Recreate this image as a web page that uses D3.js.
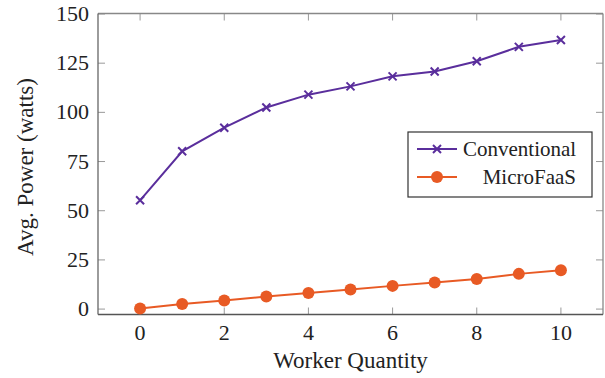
<!DOCTYPE html>
<html>
<head>
<meta charset="utf-8">
<script src="https://cdn.jsdelivr.net/npm/d3@7"></script>
<style>
  body { margin: 0; background: #fff; }
</style>
</head>
<body>
<svg width="605" height="378" font-family="Liberation Serif"></svg>
<script>
const workers = [0, 1, 2, 3, 4, 5, 6, 7, 8, 9, 10];
const conventional = [55.3, 80.2, 92.2, 102.5, 109, 113.2, 118.3, 120.8, 126, 133.3, 136.8];
const microfaas = [0.3, 2.6, 4.4, 6.4, 8.2, 10, 11.8, 13.5, 15.3, 17.9, 19.8];
const xTicks = [0, 2, 4, 6, 8, 10];
const yTicks = [0, 25, 50, 75, 100, 125, 150];

const svg = d3.select("svg");
const pLeft = 98, pRight = 603, pTop = 13.5, pBottom = 314.5;

const x = d3.scaleLinear().domain([-1, 11]).range([pLeft, pRight]);
const y = d3.scaleLinear().domain([-2.75, 150.25]).range([pBottom, pTop]);

const purple = "#5a2e9c";
const orange = "#e85a24";
const ink = "#222";

// ticks (inside, both sides)
const tickLen = 7;
const g = svg.append("g");
xTicks.forEach(t => {
    g.append("line").attr("x1", x(t)).attr("x2", x(t)).attr("y1", pBottom).attr("y2", pBottom - tickLen)
        .attr("stroke", "#999").attr("stroke-width", 1);
    g.append("line").attr("x1", x(t)).attr("x2", x(t)).attr("y1", pTop).attr("y2", pTop + tickLen)
        .attr("stroke", "#999").attr("stroke-width", 1);
});
yTicks.forEach(t => {
    g.append("line").attr("x1", pLeft).attr("x2", pLeft + tickLen).attr("y1", y(t)).attr("y2", y(t))
        .attr("stroke", "#999").attr("stroke-width", 1);
    g.append("line").attr("x1", pRight).attr("x2", pRight - tickLen).attr("y1", y(t)).attr("y2", y(t))
        .attr("stroke", "#999").attr("stroke-width", 1);
});

// box
svg.append("line").attr("x1", pLeft).attr("x2", pRight).attr("y1", pTop).attr("y2", pTop)
    .attr("stroke", "#888").attr("stroke-width", 1.3);
svg.append("line").attr("x1", pRight).attr("x2", pRight).attr("y1", pTop).attr("y2", pBottom)
    .attr("stroke", "#888").attr("stroke-width", 1.3);
svg.append("line").attr("x1", pLeft).attr("x2", pRight).attr("y1", pBottom).attr("y2", pBottom)
    .attr("stroke", "#555").attr("stroke-width", 1.3);
svg.append("line").attr("x1", pLeft).attr("x2", pLeft).attr("y1", pTop).attr("y2", pBottom)
    .attr("stroke", "#666").attr("stroke-width", 1.3);

// tick labels
svg.selectAll(".xl").data(xTicks).enter().append("text")
    .attr("x", d => x(d)).attr("y", 340)
    .attr("text-anchor", "middle").attr("font-size", 22).attr("fill", ink)
    .text(d => d);
svg.selectAll(".yl").data(yTicks).enter().append("text")
    .attr("x", 89).attr("y", d => y(d) + 7)
    .attr("text-anchor", "end").attr("font-size", 22).attr("fill", ink)
    .text(d => d);

// axis titles
svg.append("text").attr("x", x(5)).attr("y", 368)
    .attr("text-anchor", "middle").attr("font-size", 23).attr("fill", ink)
    .text("Worker Quantity");
svg.append("text").attr("transform", "translate(33,167) rotate(-90)")
    .attr("text-anchor", "middle").attr("font-size", 23).attr("fill", ink)
    .text("Avg. Power (watts)");

// lines
const line = d3.line().x((d, i) => x(workers[i])).y(d => y(d));
svg.append("path").datum(conventional).attr("d", line)
    .attr("fill", "none").attr("stroke", purple).attr("stroke-width", 2);
svg.append("path").datum(microfaas).attr("d", line)
    .attr("fill", "none").attr("stroke", orange).attr("stroke-width", 2);

function cross(sel, cx, cy) {
    const s = 4;
    sel.append("path")
        .attr("d", `M${cx - s},${cy - s}L${cx + s},${cy + s}M${cx - s},${cy + s}L${cx + s},${cy - s}`)
        .attr("stroke", purple).attr("stroke-width", 2).attr("fill", "none");
}
conventional.forEach((v, i) => cross(svg, x(workers[i]), y(v)));
svg.selectAll(".dot").data(microfaas).enter().append("circle")
    .attr("cx", (d, i) => x(workers[i])).attr("cy", d => y(d)).attr("r", 6)
    .attr("fill", orange);

// legend
const lg = svg.append("g");
lg.append("rect").attr("x", 408).attr("y", 132).attr("width", 184).attr("height", 65)
    .attr("fill", "#fff").attr("stroke", "#333").attr("stroke-width", 1.2);
lg.append("line").attr("x1", 417).attr("x2", 457).attr("y1", 149).attr("y2", 149)
    .attr("stroke", purple).attr("stroke-width", 2);
cross(lg, 437, 149);
lg.append("line").attr("x1", 417).attr("x2", 457).attr("y1", 177).attr("y2", 177)
    .attr("stroke", orange).attr("stroke-width", 2);
lg.append("circle").attr("cx", 437).attr("cy", 177).attr("r", 6).attr("fill", orange);
lg.append("text").attr("x", 463).attr("y", 156).attr("font-size", 21).attr("fill", ink).text("Conventional");
lg.append("text").attr("x", 576).attr("y", 184).attr("text-anchor", "end").attr("font-size", 21).attr("fill", ink).text("MicroFaaS");
</script>
</body>
</html>
